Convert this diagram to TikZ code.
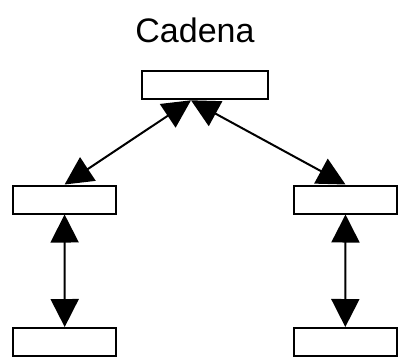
\documentclass[tikz,border=0pt]{standalone}
\usepackage{fontspec}
\setmainfont{Liberation Sans}
\usetikzlibrary{arrows.meta,calc}

\pgfdeclarelayer{paper}
\pgfdeclarelayer{links}
\pgfsetlayers{paper,links,main}

\tikzset{
  box/.style={draw=black, fill=white, line width=2pt, rectangle,
    inner sep=0pt, minimum height=28pt},
  topbox/.style={box, minimum width=126pt},
  leafbox/.style={box, minimum width=103pt},
  link/.style={line width=2pt, draw=black,
    {Triangle[length=28pt,width=28pt]}-{Triangle[length=28pt,width=28pt]}},
}

\begin{document}
\begin{tikzpicture}[x=1pt,y=-1pt]
  \begin{pgfonlayer}{paper}
    \fill[white] (0,0) rectangle (402,357);
  \end{pgfonlayer}
  \useasboundingbox (0,0) rectangle (402,357);

  % title
  \node[anchor=base, inner sep=0pt, font=\fontsize{34}{40}\selectfont] (title) at (195,42.5) {Cadena};

  % boxes
  \node[topbox]  (top) at (205,85.3) {};
  \node[leafbox] (ml)  at (64.6,199.5) {};
  \node[leafbox] (mr)  at (345.5,199.5) {};
  \node[leafbox] (bl)  at (64.7,342) {};
  \node[leafbox] (br)  at (345.3,342) {};

  % meeting point of the two upper connectors
  \coordinate (hub) at ($(top.south)+(-14,0)$);

  % connectors, kept behind the boxes
  \begin{pgfonlayer}{links}
    \draw[link] (ml.north) -- (hub);
    \draw[link] (mr.north) -- (hub);
    \draw[link] (ml.south) -- (bl.north);
    \draw[link] (mr.south) -- (br.north);
  \end{pgfonlayer}
\end{tikzpicture}
\end{document}
